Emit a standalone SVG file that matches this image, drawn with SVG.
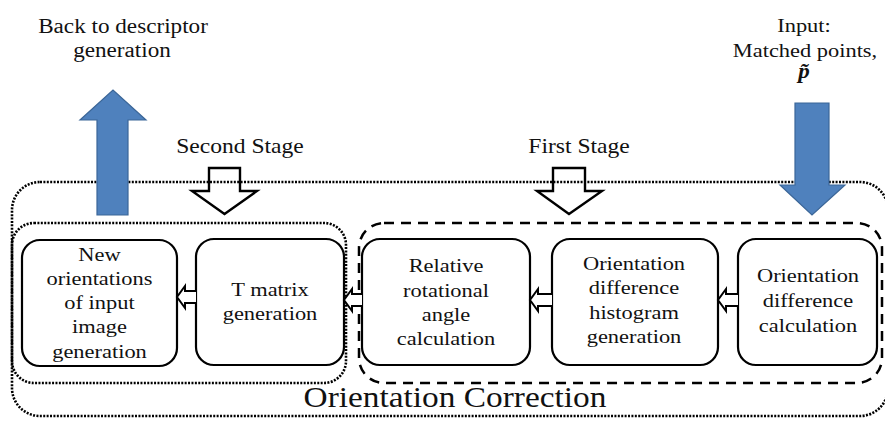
<svg xmlns="http://www.w3.org/2000/svg" width="885" height="421" viewBox="0 0 885 421">
<style>
text{font-family:"Liberation Serif","Times New Roman",serif;fill:#111;}
.bt{font-size:19.5px;text-anchor:middle;}
.lbl{font-size:20.5px;text-anchor:middle;}
.box{fill:#fff;stroke:#000;stroke-width:2.2;}
.dot{fill:none;stroke:#000;stroke-width:2.6;stroke-dasharray:2 1.4;}
.dash{fill:none;stroke:#000;stroke-width:2.5;stroke-dasharray:10 7;}
.hollow{fill:none;stroke:#000;stroke-width:2.4;stroke-linejoin:miter;}
.small{fill:#fff;stroke:#000;stroke-width:2;stroke-linejoin:miter;}
.blue{fill:#4f81bd;stroke:#3b6698;stroke-width:1.2;}
</style>
<g id="outer-group">
<rect class="dot" x="12" y="182" width="876" height="234" rx="28" ry="28"/>
<text transform="matrix(1.15 0 0 1 455 0)" x="0" y="407" style="font-size:29px;text-anchor:middle">Orientation Correction</text>
</g>
<g id="second-stage-group">
<rect class="dot" x="12" y="223" width="334" height="160" rx="22" ry="22"/>
</g>
<g id="first-stage-group">
<rect class="dash" x="359" y="223" width="523" height="160" rx="25" ry="25"/>
</g>
<g id="labels">
<text class="lbl" transform="matrix(1.13 0 0 1 123 0)" x="0" y="33">Back to descriptor</text>
<text class="lbl" transform="matrix(1.13 0 0 1 122 0)" x="0" y="57">generation</text>
<text class="lbl" transform="matrix(1.15 0 0 1 804 0)" x="0" y="32" style="font-size:19.5px">Input:</text>
<text class="lbl" transform="matrix(1.15 0 0 1 805 0)" x="0" y="57" style="font-size:19.5px">Matched points,</text>
<text class="lbl" transform="matrix(1.15 0 0 1 804 0)" x="0" y="78" style="font-size:20px;font-weight:bold;font-style:italic">p&#771;</text>
<text class="lbl" transform="matrix(1.15 0 0 1 240 0)" x="0" y="153">Second Stage</text>
<text class="lbl" transform="matrix(1.15 0 0 1 579 0)" x="0" y="153">First Stage</text>
</g>
<g id="n1">
<rect class="box" x="22" y="240" width="155" height="126" rx="18" ry="18"/>
<text class="bt" transform="matrix(1.15 0 0 1 99.5 0)"><tspan x="0" y="261">New</tspan><tspan x="0" y="285">orientations</tspan><tspan x="0" y="309">of input</tspan><tspan x="0" y="333">image</tspan><tspan x="0" y="358">generation</tspan></text>
</g>
<g id="n2">
<rect class="box" x="196" y="239" width="148" height="126" rx="18" ry="18"/>
<text class="bt" transform="matrix(1.15 0 0 1 270 0)"><tspan x="0" y="296">T matrix</tspan><tspan x="0" y="320">generation</tspan></text>
</g>
<g id="n3">
<rect class="box" x="362" y="239" width="168" height="126" rx="18" ry="18"/>
<text class="bt" transform="matrix(1.15 0 0 1 446 0)"><tspan x="0" y="272">Relative</tspan><tspan x="0" y="297">rotational</tspan><tspan x="0" y="321">angle</tspan><tspan x="0" y="345">calculation</tspan></text>
</g>
<g id="n4">
<rect class="box" x="552" y="239" width="166" height="126" rx="18" ry="18"/>
<text class="bt" transform="matrix(1.15 0 0 1 634 0)"><tspan x="0" y="270">Orientation</tspan><tspan x="0" y="294">difference</tspan><tspan x="0" y="319">histogram</tspan><tspan x="0" y="343">generation</tspan></text>
</g>
<g id="n5">
<rect class="box" x="738" y="239" width="139" height="126" rx="18" ry="18"/>
<text class="bt" transform="matrix(1.15 0 0 1 808 0)"><tspan x="0" y="282">Orientation</tspan><tspan x="0" y="307">difference</tspan><tspan x="0" y="332">calculation</tspan></text>
</g>
<g id="connectors">
<path class="hollow" d="M209,168 H240 V191 H257 L224.5,214 L192,191 H209 Z"/>
<path class="hollow" d="M553,168 H585 V191 H602 L569,214 L537,191 H553 Z"/>
<path class="blue" d="M97,215 V120 H80 L113,90 L146,120 H128 V215 Z"/>
<path class="blue" d="M795,103 H829 V185 H845 L812,215 L780,185 H795 Z"/>
<path class="small" d="M196,291 H185 V286 L177,297 L185,308 V303 H196"/>
<path class="small" d="M362,294 H352 V289 L344,300 L352,311 V306 H362"/>
<path class="small" d="M552,294 H538 V289 L530,300 L538,311 V306 H552"/>
<path class="small" d="M738,294 H726 V289 L718,300 L726,311 V306 H738"/>
</g>
</svg>
